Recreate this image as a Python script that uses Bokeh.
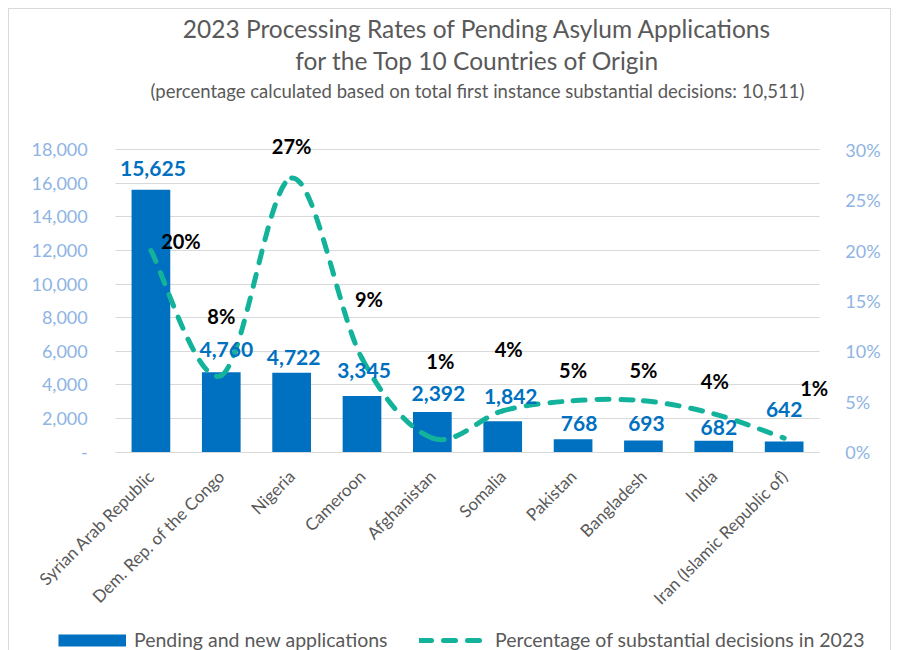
import numpy as np
from math import pi
from bokeh.plotting import figure
from bokeh.models import (ColumnDataSource, Range1d, LinearAxis, FixedTicker, Label,
                          LabelSet, Legend, LegendItem, NumeralTickFormatter, Grid)
from bokeh.core.properties import value
from bokeh.embed import file_html
from bokeh.resources import INLINE

# ---------------- data ----------------
countries = ["Syrian Arab Republic", "Dem. Rep. of the Congo", "Nigeria", "Cameroon",
             "Afghanistan", "Somalia", "Pakistan", "Bangladesh", "India",
             "Iran (Islamic Republic of)"]
pending = [15625, 4760, 4722, 3345, 2392, 1842, 768, 693, 682, 642]
pct = [20.0, 7.6, 27.2, 9.3, 1.4, 4.1, 5.1, 5.1, 3.8, 1.4]
left_ticks = list(range(0, 18001, 2000))
right_ticks = list(range(0, 31, 5))

title1 = "2023 Processing Rates of Pending Asylum Applications"
title2 = "for the Top 10 Countries of Origin"
subtitle = "(percentage calculated based on total first instance substantial decisions: 10,511)"
legend_bar = "Pending and new applications"
legend_line = "Percentage of substantial decisions in 2023"

# ---------------- style / layout ----------------
FONT = "Lato"
BAR = "#0070C0"
TEAL = "#12B39A"
AXBLUE = "#8EB4E3"
GREY = "#595959"
GRID = "#D9D9D9"

CANVAS_W, CANVAS_H = 881, 641        # drawing area inside the 1px border
CAT_PX = 70.2                        # width of one category band in px
PLOT_LEFT_PX = 106                   # left edge of the category area
AXIS_TOP_PX, AXIS_ZERO_PX = 140, 442 # y pixel of 18000 and of 0
Y_MAX = 18000
PCT_MAX = 30

# label nudges in pixels (right, up) as placed in the original chart
bar_dx = [2, 5, 2, 2, 6, 8, 6, 3, 5, 0]
bar_dy = [21, 23, 15, 25, 18, 25, 16, 17, 13, 32]
pct_dx = [30, 0, 0, 7, 8, 6, 0, 0, 1, 30]
pct_dy = [10, 60, 32, 59, 77, 62, 31, 31, 33, 50]

n = len(countries)
xs = list(range(n))

src = ColumnDataSource(dict(
    x=xs, pending=pending, pct=pct,
    bar_lbl=[f"{v:,}" for v in pending],
    pct_lbl=[f"{round(v):d}%" for v in pct],
    bar_dx=bar_dx, bar_dy=bar_dy, pct_dx=pct_dx, pct_dy=pct_dy,
))

# smooth (Catmull-Rom style) bezier segments through the percentage points
P = np.column_stack([np.array(xs, float), np.array(pct, float)])
seg = dict(x0=[], y0=[], x1=[], y1=[], cx0=[], cy0=[], cx1=[], cy1=[])
for i in range(n - 1):
    p0 = P[max(i - 1, 0)]
    p1 = P[i]
    p2 = P[i + 1]
    p3 = P[min(i + 2, n - 1)]
    c0 = p1 + (p2 - p0) / 6.0
    c1 = p2 - (p3 - p1) / 6.0
    seg["x0"].append(p1[0]); seg["y0"].append(p1[1])
    seg["x1"].append(p2[0]); seg["y1"].append(p2[1])
    seg["cx0"].append(c0[0]); seg["cy0"].append(c0[1])
    seg["cx1"].append(c1[0]); seg["cy1"].append(c1[1])
seg_src = ColumnDataSource(seg)

# ranges chosen so that the frame is the whole canvas
x_start = -0.5 - PLOT_LEFT_PX / CAT_PX
x_end = x_start + CANVAS_W / CAT_PX
ppu = (AXIS_ZERO_PX - AXIS_TOP_PX) / Y_MAX
y_end = Y_MAX + AXIS_TOP_PX / ppu
y_start = -(CANVAS_H - AXIS_ZERO_PX) / ppu
k = PCT_MAX / Y_MAX

p = figure(width=CANVAS_W + 2, height=CANVAS_H + 1,
           x_range=Range1d(x_start, x_end), y_range=Range1d(y_start, y_end),
           output_backend="svg", toolbar_location=None, min_border=0,
           background_fill_color="white", border_fill_color="white",
           styles={"margin": "8px 0 0 8px",
                   "border-top": "1px solid #D9D9D9",
                   "border-left": "1px solid #D9D9D9",
                   "border-right": "1px solid #D9D9D9"})
p.title.visible = False
p.outline_line_color = None
p.extra_y_ranges = {"pct": Range1d(y_start * k, y_end * k)}

# grid
p.xgrid.visible = False
if "cross_bounds" in Grid.properties():
    p.ygrid.cross_bounds = (-0.5, n - 0.5)
    p.ygrid.grid_line_color = GRID
else:
    p.ygrid.visible = False
    p.segment(x0=-0.5, x1=n - 0.5, y0=left_ticks, y1=left_ticks,
              line_color=GRID, line_width=1)
p.ygrid.ticker = FixedTicker(ticks=left_ticks)

# left axis
la = p.left[0]
la.ticker = FixedTicker(ticks=left_ticks)
la.formatter = NumeralTickFormatter(format="0,0")
la.major_label_overrides = {0: "-"}
la.fixed_location = -0.5
# right axis
ra = LinearAxis(y_range_name="pct", ticker=FixedTicker(ticks=right_ticks))
ra.major_label_overrides = {t: f"{t}%" for t in right_ticks}
ra.fixed_location = n - 0.5
p.add_layout(ra, "right")
for ax, so in ((la, 22), (ra, 20)):
    ax.axis_line_color = None
    ax.major_tick_line_color = None
    ax.minor_tick_line_color = None
    ax.major_label_standoff = so
    ax.major_label_text_font = FONT
    ax.major_label_text_font_size = "18px"
    ax.major_label_text_color = AXBLUE

# bottom axis
xa = p.below[0]
xa.ticker = FixedTicker(ticks=xs)
xa.major_label_overrides = {i: c for i, c in zip(xs, countries)}
xa.major_label_orientation = pi / 4
xa.fixed_location = 0
xa.bounds = (-0.5, n - 0.5)
xa.axis_line_color = GRID
xa.axis_line_width = 1
xa.major_tick_line_color = None
xa.minor_tick_line_color = None
xa.major_label_standoff = 15
xa.major_label_text_font = FONT
xa.major_label_text_font_size = "17px"
xa.major_label_text_color = GREY

# bars
bars = p.vbar(x="x", top="pending", width=0.55, source=src,
              fill_color=BAR, line_color=None)

# smoothed dashed percentage line
p.bezier(x0="x0", y0="y0", x1="x1", y1="y1", cx0="cx0", cy0="cy0",
         cx1="cx1", cy1="cy1", source=seg_src, y_range_name="pct",
         line_color=TEAL, line_width=5, line_dash="12 12", line_cap="round")

# data labels
p.add_layout(LabelSet(x="x", y="pending", text="bar_lbl", source=src,
                      x_offset="bar_dx", y_offset="bar_dy",
                      text_align="center", text_baseline="middle",
                      text_font=value(FONT), text_font_size=value("21px"),
                      text_font_style="bold", text_color=BAR))
p.add_layout(LabelSet(x="x", y="pct", text="pct_lbl", source=src,
                      y_range_name="pct",
                      x_offset="pct_dx", y_offset="pct_dy",
                      text_align="center", text_baseline="middle",
                      text_font=value(FONT), text_font_size=value("20px"),
                      text_font_style="bold", text_color="black"))

# titles
for txt, dy, fs in ((title1, 121, "24.5px"), (title2, 89, "24.5px"),
                    (subtitle, 59, "18.5px")):
    p.add_layout(Label(x=(n - 1) / 2, y=Y_MAX, x_offset=10, y_offset=dy, text=txt,
                       text_align="center", text_baseline="middle",
                       text_font=FONT, text_font_size=fs, text_color=GREY))

# legend (proxy renderers with the same look, holding one off-screen NaN point)
nan = float("nan")
leg_bar = p.line(x=[nan, nan], y=[nan, nan], line_color=BAR, line_width=12,
                 line_cap="butt")
leg_line = p.line(x=[nan, nan], y=[nan, nan], line_color=TEAL, line_width=5,
                  line_dash="12 12", line_cap="round")
for item, lx in ((LegendItem(label=legend_bar, renderers=[leg_bar]), 49),
                 (LegendItem(label=legend_line, renderers=[leg_line]), 410)):
    p.add_layout(Legend(items=[item], orientation="horizontal", location=(lx, 0),
                        glyph_width=68, glyph_height=16, label_standoff=8,
                        padding=0, margin=0, border_line_color=None,
                        background_fill_alpha=0,
                        label_text_font=FONT, label_text_font_size="19.5px",
                        label_text_color=GREY))

open("out.html", "w").write(file_html(p, INLINE))
